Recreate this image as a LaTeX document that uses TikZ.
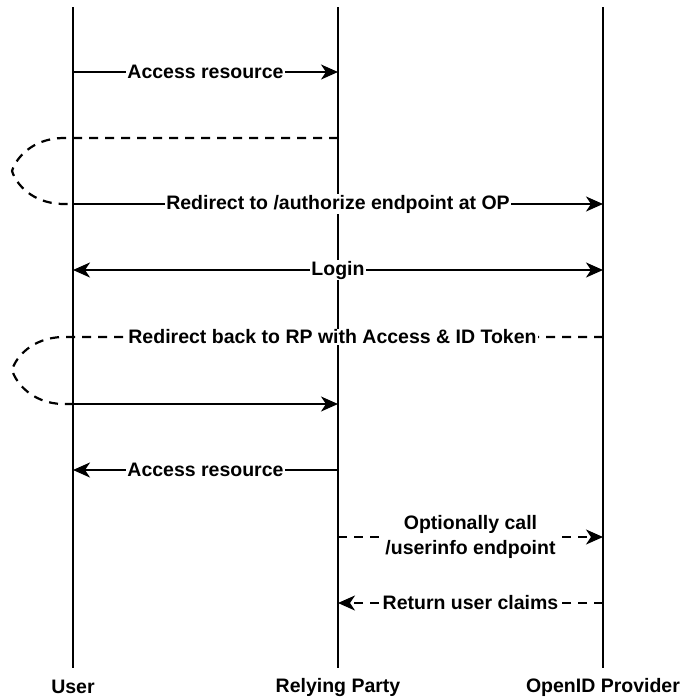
\documentclass[tikz,border=0pt]{standalone}
\usepackage{fontspec}
\setmainfont{Liberation Sans}
\usetikzlibrary{arrows.meta}
\begin{document}
\begin{tikzpicture}[x=1pt,y=-1pt,
  head/.tip={Stealth[length=17pt,width=15pt,inset=5pt]},
  tip/.style={-head},
  lifeline/.style={line width=2.4pt},
  msg/.style={line width=2.2pt,tip},
  msgboth/.style={line width=2.2pt,head-head},
  dashmsg/.style={line width=2.2pt,dash pattern=on 9pt off 7pt},
  lbl/.style={fill=white,inner sep=1pt,font=\bfseries\fontsize{19.5}{25}\selectfont,align=center},
  actor/.style={font=\bfseries\fontsize{19.5}{22}\selectfont,inner sep=0pt}
]
\useasboundingbox (0,0) rectangle (685,697);

% lifelines
\coordinate (uT) at (73,7);   \coordinate (uB) at (73,668);
\coordinate (rT) at (338,7);  \coordinate (rB) at (338,668);
\coordinate (oT) at (603,7);  \coordinate (oB) at (603,668);
\draw[lifeline] (uT) -- (uB);
\draw[lifeline] (rT) -- (rB);
\draw[lifeline] (oT) -- (oB);
\node[actor] (user) at (73,687) {User};
\node[actor] (rp) at (338,687) {Relying Party};
\node[actor] (op) at (603,687) {OpenID Provider};

% message anchors on the lifelines
\foreach \y/\n in {72/1,138/2,204/3,270/4,337/5,404/6,470/7,537/8,603/9}{
  \coordinate (u\n) at (73,\y);
  \coordinate (r\n) at (338,\y);
  \coordinate (o\n) at (603,\y);
}

% 1: access resource
\draw[msg] (u1) -- node[lbl] {Access resource} (r1);

% 2: redirect to authorize endpoint (loops back via the browser)
\coordinate (c2a) at (62,138);
\coordinate (c2b) at (12,171);
\coordinate (c2c) at (62,204);
\draw[dashmsg] (r2) -- (c2a) .. controls (32,139) and (16,158) .. (c2b)
  .. controls (16,184) and (32,203) .. (c2c) -- (u3);
\draw[msg] (u3) -- node[lbl] {Redirect to /authorize endpoint at OP} (o3);

% 3: login
\draw[msgboth] (u4) -- node[lbl] {Login} (o4);

% 4: redirect back to RP
\coordinate (c5a) at (62,337);
\coordinate (c5b) at (12,370);
\coordinate (c5c) at (62,404);
\draw[dashmsg] (o5) -- node[lbl] {Redirect back to RP with Access \& ID Token} (c5a)
  .. controls (32,338) and (16,357) .. (c5b)
  .. controls (16,383) and (32,403) .. (c5c) -- (u6);
\draw[msg] (u6) -- (r6);

% 5: resource returned
\draw[msg] (r7) -- node[lbl] {Access resource} (u7);

% 6: optional userinfo call
\draw[dashmsg,tip] (r8) -- node[lbl] {Optionally call\\/userinfo endpoint} (o8);

% 7: claims returned
\draw[dashmsg,tip] (o9) -- node[lbl] {Return user claims} (r9);
\end{tikzpicture}
\end{document}
